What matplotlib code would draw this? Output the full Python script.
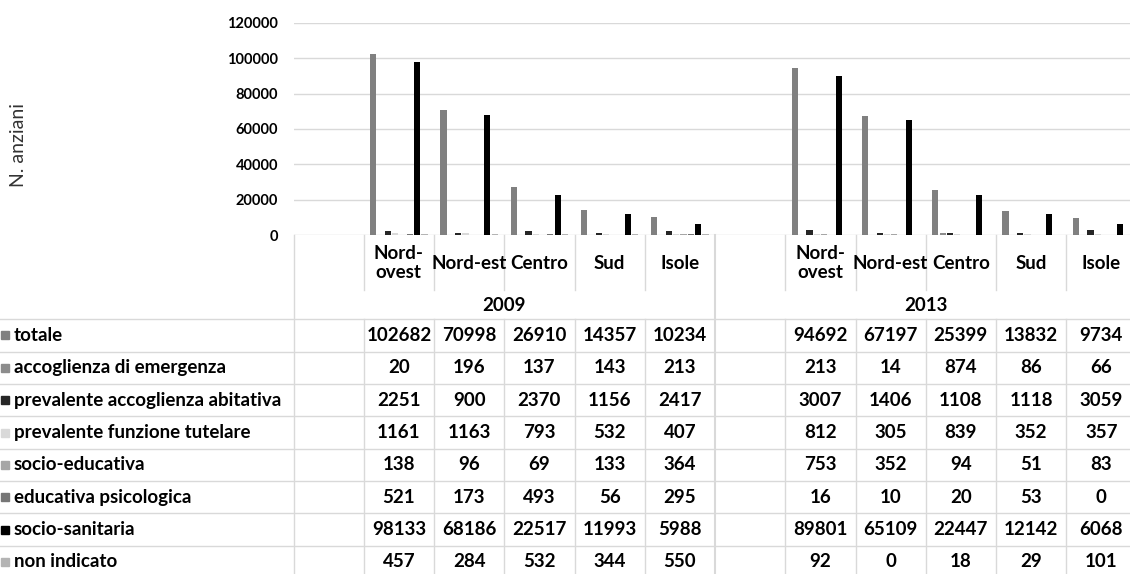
import matplotlib
matplotlib.use("Agg")
import matplotlib.pyplot as plt
from matplotlib.patches import Rectangle
import numpy as np

plt.rcParams['font.family'] = ['Lato', 'DejaVu Sans']

# data
years = ['2009', '2013']
regions = ['Nord-ovest', 'Nord-est', 'Centro', 'Sud', 'Isole']
region_labels = ['Nord-\novest', 'Nord-est', 'Centro', 'Sud', 'Isole']
series = ['totale', 'accoglienza di emergenza', 'prevalente accoglienza abitativa',
          'prevalente funzione tutelare', 'socio-educativa', 'educativa psicologica',
          'socio-sanitaria', 'non indicato']
colors = ['#808080', '#8c8c8c', '#262626', '#d9d9d9', '#a6a6a6', '#767676', '#000000', '#b4b4b4']

# 2009 regions then 2013 regions
totale = [102682, 70998, 26910, 14357, 10234, 94692, 67197, 25399, 13832, 9734]
acc_emergenza = [20, 196, 137, 143, 213, 213, 14, 874, 86, 66]
acc_abitativa = [2251, 900, 2370, 1156, 2417, 3007, 1406, 1108, 1118, 3059]
funz_tutelare = [1161, 1163, 793, 532, 407, 812, 305, 839, 352, 357]
socio_educativa = [138, 96, 69, 133, 364, 753, 352, 94, 51, 83]
educ_psicologica = [521, 173, 493, 56, 295, 16, 10, 20, 53, 0]
socio_sanitaria = [98133, 68186, 22517, 11993, 5988, 89801, 65109, 22447, 12142, 6068]
non_indicato = [457, 284, 532, 344, 550, 92, 0, 18, 29, 101]
all_values = [totale, acc_emergenza, acc_abitativa, funz_tutelare,
              socio_educativa, educ_psicologica, socio_sanitaria, non_indicato]

# each year group has an empty first column
cols = np.array([1, 2, 3, 4, 5, 7, 8, 9, 10, 11])
ncols = 12

W_PX, H_PX = 1130, 574
left_px, col_px = 293.5, 70.25
axis_px, top_px = 235, 23
grid_c = '#d9d9d9'

fig = plt.figure(figsize=(W_PX / 100, H_PX / 100), dpi=100)
L = left_px / W_PX
W = col_px * ncols / W_PX
ax = fig.add_axes([L, 1 - axis_px / H_PX, W, (axis_px - top_px) / H_PX])

slot = 7.3 / col_px
for s, (name, vals, c) in enumerate(zip(series, all_values, colors)):
    ax.bar(cols + (s - 3.5) * slot, vals, width=slot * 0.85, color=c, zorder=3)

ax.set_xlim(-0.5, ncols - 0.5)
ax.set_ylim(0, 120000)
ax.set_yticks(np.arange(0, 120001, 20000))
ax.set_xticks([])
ax.tick_params(axis='y', length=0, pad=11, labelsize=10.5)
for t in ax.get_yticklabels():
    t.set_fontweight('bold')
ax.yaxis.grid(True, color=grid_c, lw=1.0, zorder=0)
for sp in ax.spines.values():
    sp.set_visible(False)
fig.text(18 / W_PX, 1 - 145 / H_PX, 'N. anziani', rotation=90, ha='center', va='center',
         fontsize=14, color='#333333')

# data table underneath
tab = fig.add_axes([L, 0, W, 1 - axis_px / H_PX])
tab.set_xlim(-0.5, ncols - 0.5)
tab.set_ylim(H_PX, axis_px)
tab.axis('off')


def px2x(p):
    return -0.5 + (p - left_px) / col_px


row_top = 319.3
row_h = 32.35
x0 = px2x(0)
lw = 1.0
for k in range(ncols + 1):
    xb = k - 0.5
    if k in (0, 6, 12):
        tab.plot([xb, xb], [axis_px, H_PX + 10], color=grid_c, lw=1.5 if k == 6 else lw, clip_on=False)
    else:
        tab.plot([xb, xb], [axis_px, 290], color=grid_c, lw=lw, clip_on=False)
        tab.plot([xb, xb], [row_top, H_PX + 10], color=grid_c, lw=lw, clip_on=False)
for i in range(len(series) + 1):
    yb = row_top + i * row_h
    tab.plot([x0, ncols - 0.5], [yb, yb], color=grid_c, lw=lw, clip_on=False)

fs = 13.5
for j, c in enumerate(cols):
    tab.text(c, 263, region_labels[j % 5], ha='center', va='center', fontsize=fs,
             fontweight='bold', linespacing=1.15, clip_on=False)
for g, yr in enumerate(years):
    tab.text(2.5 + 6 * g, 305, yr, ha='center', va='center', fontsize=fs, fontweight='bold')

for i, (name, vals, c) in enumerate(zip(series, all_values, colors)):
    yc = row_top + (i + 0.5) * row_h
    tab.add_patch(Rectangle((px2x(1), yc - 4), 8 / col_px, 8, color=c, clip_on=False))
    tab.text(px2x(14), yc, name, ha='left', va='center', fontsize=fs, fontweight='bold', clip_on=False)
    for j, cc in enumerate(cols):
        tab.text(cc, yc, str(vals[j]), ha='center', va='center', fontsize=fs, fontweight='bold', clip_on=False)

fig.savefig('out.png', dpi=100)
